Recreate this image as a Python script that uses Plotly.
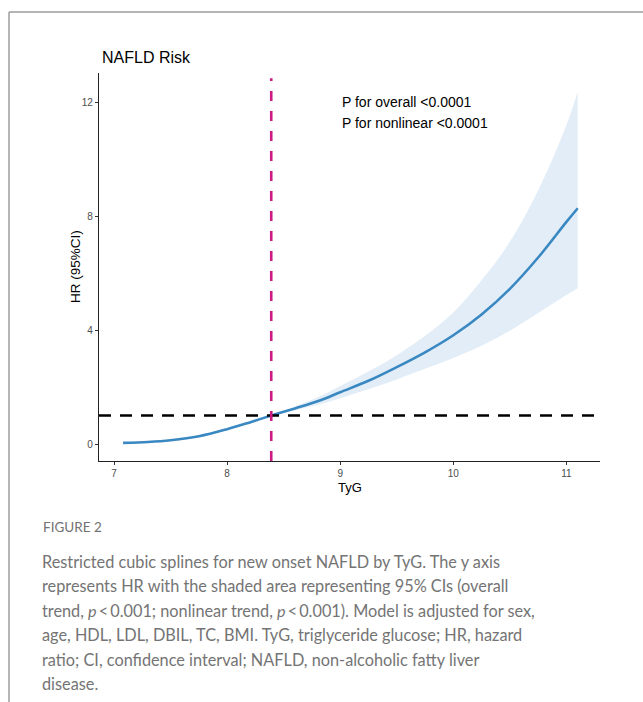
import plotly.graph_objects as go

# Restricted cubic spline estimates: TyG vs hazard ratio with 95% CI
tyg = [7.08, 7.3, 7.5, 7.75, 8.0, 8.2, 8.39, 8.6, 8.8, 9.0, 9.25, 9.5,
       9.75, 10.0, 10.25, 10.5, 10.75, 11.0, 11.1]
hr = [0.04, 0.07, 0.13, 0.27, 0.52, 0.76, 1.0, 1.25, 1.50, 1.82, 2.22, 2.70,
      3.22, 3.82, 4.55, 5.45, 6.55, 7.8, 8.28]
hr_lower = [0.03, 0.055, 0.11, 0.24, 0.49, 0.74, 0.99, 1.19, 1.38, 1.61, 1.92, 2.27,
            2.64, 3.02, 3.45, 3.98, 4.6, 5.23, 5.47]
hr_upper = [0.06, 0.09, 0.15, 0.30, 0.56, 0.79, 1.01, 1.32, 1.64, 2.04, 2.55, 3.12,
            3.8, 4.62, 5.75, 7.1, 8.9, 11.2, 12.37]

ref_tyg = 8.39
ref_hr = 1.0

x_ticks = [7, 8, 9, 10, 11]
y_ticks = [0, 4, 8, 12]

title_text = "NAFLD Risk"
p_lines = ["P for overall <0.0001", "P for nonlinear <0.0001"]
caption_head = "FIGURE 2"
caption_lines = [
    "Restricted cubic splines for new onset NAFLD by TyG. The y axis",
    "represents HR with the shaded area representing 95% CIs (overall",
    "trend, <i>p</i>\u2009<\u20090.001; nonlinear trend, <i>p</i>\u2009<\u20090.001). Model is adjusted for sex,",
    "age, HDL, LDL, DBIL, TC, BMI. TyG, triglyceride glucose; HR, hazard",
    "ratio; CI, confidence interval; NAFLD, non-alcoholic fatty liver",
    "disease.",
]

W, H = 643, 702
L, R, T, B = 99, 43, 73, 241
PW, PH = W - L - R, H - T - B


def px(xp):
    return (xp - L) / PW


def py(yp):
    return (H - B - yp) / PH


fig = go.Figure()

fig.add_trace(go.Scatter(x=tyg, y=hr_upper, mode="lines", line=dict(width=0, shape="spline"),
                         hoverinfo="skip", showlegend=False))
fig.add_trace(go.Scatter(x=tyg, y=hr_lower, mode="lines", line=dict(width=0, shape="spline"),
                         fill="tonexty", fillcolor="#E2EDF8", hoverinfo="skip", showlegend=False))
fig.add_trace(go.Scatter(x=tyg, y=hr, mode="lines",
                         line=dict(color="#3A88C2", width=2.6, shape="spline"), showlegend=False))

# Reference lines: HR = 1 and the TyG reference value
fig.add_trace(go.Scatter(x=[6.867, 11.297], y=[ref_hr, ref_hr], mode="lines",
                         line=dict(color="black", width=2.6, dash="12px,9px"),
                         hoverinfo="skip", showlegend=False))
fig.add_trace(go.Scatter(x=[ref_tyg, ref_tyg], y=[-0.6, 12.85], mode="lines",
                         line=dict(color="#CC1A84", width=2.6, dash="10px,10px"),
                         hoverinfo="skip", showlegend=False))

fig.update_xaxes(range=[6.867, 11.297], tickvals=x_ticks, ticks="outside", ticklen=3,
                 tickcolor="#333", tickfont=dict(size=10, color="#4d4d4d", family="Liberation Sans"),
                 showline=True, linecolor="#222", linewidth=1.2, showgrid=False, zeroline=False)
fig.update_yaxes(range=[-0.596, 13.03], tickvals=y_ticks, ticks="outside", ticklen=3,
                 tickcolor="#333", tickfont=dict(size=10, color="#4d4d4d", family="Liberation Sans"),
                 showline=True, linecolor="#222", linewidth=1.2, showgrid=False, zeroline=False)

ann = []
ann.append(dict(text=title_text, x=px(100), y=py(58), xref="paper", yref="paper",
                xanchor="left", yanchor="middle", showarrow=False,
                font=dict(size=16, color="black", family="Liberation Sans")))
for i, t in enumerate(p_lines):
    ann.append(dict(text=t, x=9.0, y=12.0 - 0.74 * i, xref="x", yref="y",
                    xanchor="left", yanchor="middle", showarrow=False,
                    font=dict(size=14, color="black", family="Liberation Sans")))
ann.append(dict(text="TyG", x=0.5, y=py(487), xref="paper", yref="paper",
                xanchor="center", yanchor="middle", showarrow=False,
                font=dict(size=13, color="black", family="Liberation Sans")))
ann.append(dict(text="HR (95%CI)", x=px(75), y=0.5, xref="paper", yref="paper",
                xanchor="center", yanchor="middle", showarrow=False, textangle=-90,
                font=dict(size=13.5, color="black", family="Liberation Sans")))
ann.append(dict(text=caption_head, x=px(41), y=py(527), xref="paper", yref="paper",
                xanchor="left", yanchor="middle", showarrow=False,
                font=dict(size=13.5, color="#727272", family="Lato")))
for i, t in enumerate(caption_lines):
    ann.append(dict(text=t, x=px(40), y=py(561.5 + 24.4 * i), xref="paper", yref="paper",
                    xanchor="left", yanchor="middle", showarrow=False,
                    font=dict(size=16.3, color="#747474", family="Lato")))

shapes = [
    dict(type="line", xref="paper", yref="paper", x0=px(9), x1=px(700), y0=py(12), y1=py(12),
         line=dict(color="#9c9c9c", width=1.5)),
    dict(type="line", xref="paper", yref="paper", x0=px(9), x1=px(9), y0=py(12), y1=py(760),
         line=dict(color="#9c9c9c", width=1.5)),
]

fig.update_layout(width=W, height=H, margin=dict(l=L, r=R, t=T, b=B),
                  paper_bgcolor="white", plot_bgcolor="white",
                  annotations=ann, shapes=shapes, showlegend=False)

fig.write_html("out.html")
